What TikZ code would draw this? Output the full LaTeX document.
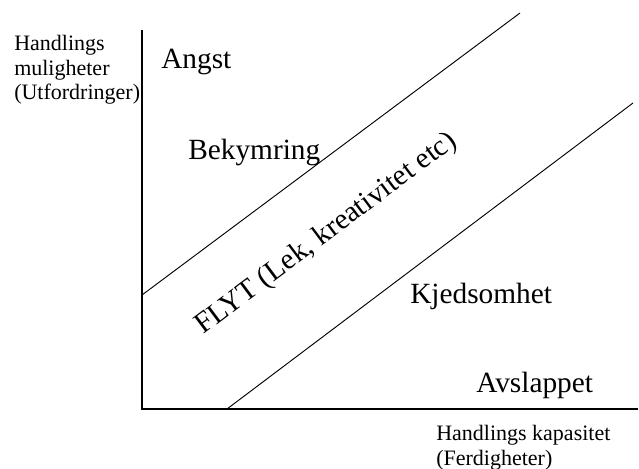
\documentclass[tikz,border=0pt]{standalone}
\usepackage{fontspec}
\setmainfont{Liberation Serif}
\begin{document}
\begin{tikzpicture}[x=0.75pt,y=-0.75pt,
  axis/.style={line width=0.8pt},
  zone/.style={line width=0.7pt},
  small/.style={font=\fontsize{16.5}{18.5}\selectfont, inner sep=0pt, align=left},
  big/.style={font=\fontsize{22}{26}\selectfont, inner sep=0pt}]
\useasboundingbox (0,0) rectangle (639,468);

% axes
\coordinate (O) at (142,409);
\coordinate (ytop) at (142,30);
\coordinate (xend) at (638,409);
\draw[axis] (ytop) -- (O) -- (xend);

% zone boundaries
\coordinate (u1) at (142,295);
\coordinate (u2) at (520,13);
\coordinate (l1) at (227,409);
\coordinate (l2) at (633,103);
\draw[zone] (u1) -- (u2);
\draw[zone] (l1) -- (l2);

% axis labels
\node[small, anchor=north west] (ylabel) at (14,35) {Handlings\\muligheter\\(Utfordringer)};
\node[small, anchor=north west] (xlabel) at (436,425) {Handlings kapasitet\\(Ferdigheter)};

% zone labels
\node[big, anchor=base west] (angst) at (161,68) {Angst};
\node[big, anchor=base west] (bekymring) at (188,159) {Bekymring};
\node[big, anchor=base west, rotate=36.8] (flyt) at (203,335) {FLYT (Lek, kreativitet etc)};
\node[big, anchor=base west] (kjedsomhet) at (410,303) {Kjedsomhet};
\node[big, anchor=base west] (avslappet) at (476,392) {Avslappet};
\end{tikzpicture}
\end{document}
